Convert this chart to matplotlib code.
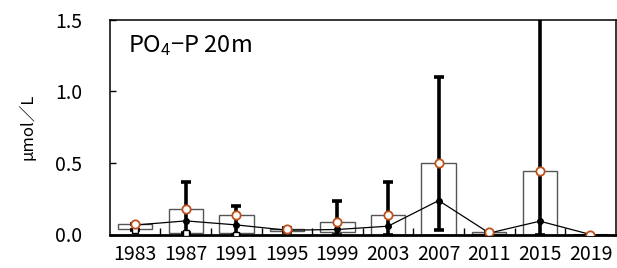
import numpy as np
import matplotlib
matplotlib.use("Agg")
import matplotlib.pyplot as plt

# values (umol/L)
years = ["1983", "1987", "1991", "1995", "1999", "2003", "2007", "2011", "2015", "2019"]
mean_vals = [0.071, 0.177, 0.135, 0.037, 0.084, 0.135, 0.500, 0.014, 0.444, 0.0]
box_low = [0.040, 0.012, 0.007, 0.021, 0.018, 0.0, 0.0, 0.004, 0.0, 0.0]
median_vals = [0.066, 0.095, 0.067, 0.030, 0.035, 0.058, 0.237, 0.010, 0.093, 0.0]
min_vals = [0.034, 0.008, 0.0, 0.020, 0.0, 0.0, 0.030, 0.0, 0.0, 0.0]
max_vals = [0.072, 0.368, 0.200, 0.048, 0.234, 0.367, 1.098, 0.016, 1.80, 0.0]


def main():
    plt.rcParams["font.family"] = ["Noto Sans CJK JP", "DejaVu Sans"]
    plt.rcParams["mathtext.default"] = "regular"

    fig = plt.figure(figsize=(6.17, 2.68), dpi=100)
    ax = fig.add_axes([0.178, 0.125, 0.82, 0.802])

    x = np.arange(len(years))
    mean = np.array(mean_vals)
    low = np.array(box_low)

    # bars from lower value up to the mean
    ax.bar(x, mean - low, bottom=low, width=0.68, color="white",
           edgecolor="#555555", linewidth=1.0, zorder=2)
    # zero-height bar shows as a thick line
    for xi, h in zip(x, mean - low):
        if h == 0:
            ax.plot([xi - 0.34, xi + 0.34], [0, 0], color="black", lw=2.2, zorder=2,
                    solid_capstyle="butt")

    # min-max error bars
    lo_err = mean - np.array(min_vals)
    hi_err = np.array(max_vals) - mean
    ax.errorbar(x, mean, yerr=[lo_err, hi_err], fmt="none", ecolor="black",
                elinewidth=2.6, capsize=3.5, capthick=2.6, zorder=3)

    # median line
    ax.plot(x, median_vals, color="black", lw=0.9, marker="o", markersize=4,
            zorder=4)

    # minimum markers
    ax.plot(x[:3], min_vals[:3], linestyle="none", marker="s", markersize=4.5,
            markerfacecolor="white", markeredgecolor="black", markeredgewidth=1.0,
            zorder=5)

    # mean markers
    ax.plot(x, mean, linestyle="none", marker="o", markersize=6,
            markerfacecolor="white", markeredgecolor="#c0501a", markeredgewidth=1.3,
            zorder=6)

    ax.set_xlim(-0.5, len(years) - 0.5)
    ax.set_ylim(0, 1.5)
    ax.set_yticks([0, 0.5, 1.0, 1.5])
    ax.set_yticklabels(["0.0", "0.5", "1.0", "1.5"], fontsize=14)
    ax.set_xticks(x)
    ax.set_xticklabels(years, fontsize=14)
    ax.set_xticks(np.arange(len(years) - 1) + 0.5, minor=True)
    ax.tick_params(axis="x", which="major", length=0, pad=7)
    ax.tick_params(axis="x", which="minor", direction="in", length=5, width=1)
    ax.tick_params(axis="y", direction="in", length=4, width=1, pad=20)

    for s in ax.spines.values():
        s.set_linewidth(1.1)
    ax.spines["bottom"].set_linewidth(2)

    ax.set_ylabel("μmol／L", fontsize=12, labelpad=13)
    ax.text(0.035, 0.935, "PO$_{4}$−P 20m", transform=ax.transAxes, fontsize=17,
            va="top", ha="left")

    fig.savefig("out.png", dpi=100)


if __name__ == "__main__":
    main()
